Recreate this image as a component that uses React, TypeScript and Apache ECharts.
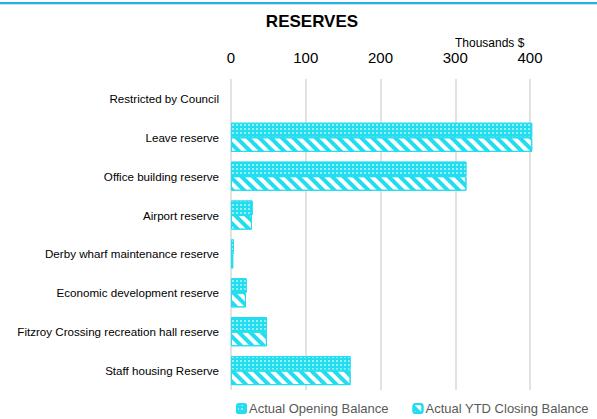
import React, { useEffect, useRef } from "react";
import * as echarts from "echarts";

const categories = [
  "Restricted by Council",
  "Leave reserve",
  "Office building reserve",
  "Airport reserve",
  "Derby wharf maintenance reserve",
  "Economic development reserve",
  "Fitzroy Crossing recreation hall reserve",
  "Staff housing Reserve",
];
const openingBalance = [0, 403, 315, 29, 4, 21, 48, 160];
const closingBalance = [0, 403, 315, 28, 3, 20, 48, 160];
const xTicks = { min: 0, max: 400, interval: 100 };

const CYAN = "#22DDF0";

const toData = (vals: number[]) =>
  vals.map((v) => (v === 0 ? { value: v, itemStyle: { borderWidth: 0, opacity: 0 } } : v));

export default function App() {
  const ref = useRef<HTMLDivElement>(null);
  useEffect(() => {
    document.body.style.margin = "0";
    const chart = echarts.init(ref.current!, undefined, { renderer: "svg" });
    chart.setOption({
      animation: false,
      textStyle: { fontFamily: "Liberation Sans" },
      title: {
        text: "RESERVES",
        left: 307,
        textAlign: "center",
        top: 8,
        textStyle: { fontSize: 17, fontWeight: "bold", color: "#000" },
      },
      graphic: [
        { type: "line", shape: { x1: 0, y1: 3, x2: 597, y2: 3 }, style: { stroke: "#2AAEE3", lineWidth: 2 } },
        { type: "line", shape: { x1: 0, y1: 4.5, x2: 597, y2: 4.5 }, style: { stroke: "#BDE8F7", lineWidth: 1 } },
        {
          type: "text",
          left: 455,
          top: 37,
          style: { text: "Thousands $", fontSize: 12, fill: "#000", fontFamily: "Liberation Sans" },
        },
      ],
      legend: {
        top: 402,
        left: 236,
        width: 400,
        padding: 0,
        itemGap: 24,
        itemWidth: 9,
        itemHeight: 9,
        itemStyle: {},
        textStyle: { fontSize: 13, color: "#595959", padding: [0, 0, 0, -2] },
        data: ["Actual Opening Balance", "Actual YTD Closing Balance"],
      },
      grid: { left: 231, right: 67, top: 79, height: 311 },
      xAxis: {
        type: "value",
        position: "top",
        min: xTicks.min,
        max: xTicks.max,
        interval: xTicks.interval,
        axisLine: { show: false },
        axisTick: { show: false },
        axisLabel: { fontSize: 15, color: "#000", margin: 14 },
        splitLine: { lineStyle: { color: "#d9d9d9", width: 1.5 } },
      },
      yAxis: {
        type: "category",
        data: categories,
        inverse: true,
        axisLine: { show: false },
        axisTick: { show: false },
        axisLabel: { fontSize: 11.6, color: "#000", margin: 12 },
      },
      series: [
        {
          name: "Actual Opening Balance",
          type: "bar",
          data: toData(openingBalance),
          barGap: "0%",
          barCategoryGap: "25%",
          clip: false,
          itemStyle: {
            color: CYAN,
            borderColor: CYAN,
            borderWidth: 1,
            decal: {
              symbol: "rect",
              symbolSize: 0.7,
              color: "#ffffff",
              dashArrayX: [2, 2],
              dashArrayY: [2, 2],
              rotation: 0,
            },
          },
        },
        {
          name: "Actual YTD Closing Balance",
          type: "bar",
          data: toData(closingBalance),
          barGap: "0%",
          barCategoryGap: "25%",
          clip: false,
          itemStyle: {
            color: "#ffffff",
            borderColor: CYAN,
            borderWidth: 1,
            decal: {
              symbol: "rect",
              symbolSize: 1,
              color: CYAN,
              dashArrayX: [1, 0],
              dashArrayY: [4, 4],
              rotation: Math.PI / 4,
            },
          },
        },
      ],
    });
    return () => chart.dispose();
  }, []);
  return <div ref={ref} style={{ width: 597, height: 419 }} />;
}
